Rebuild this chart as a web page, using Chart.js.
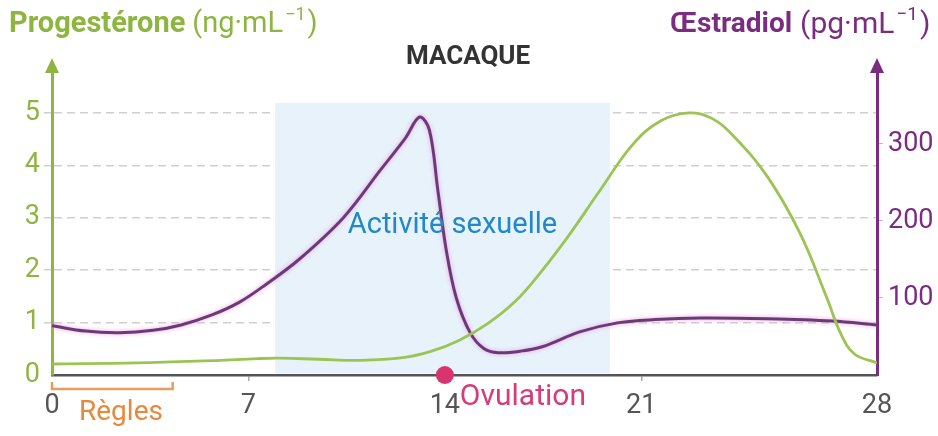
<!DOCTYPE html>
<html lang="fr">
<head>
<meta charset="utf-8">
<title>Macaque</title>
<script src="https://cdn.jsdelivr.net/npm/chart.js@4.4.1/dist/chart.umd.min.js"></script>
<style>
  html, body { margin: 0; padding: 0; background: #fff; }
  canvas { display: block; }
</style>
</head>
<body>
<canvas id="cycleChart" width="938" height="436"></canvas>
<script>
// ========================================
// DATA
// ========================================

// progesterone (ng/mL), by day of the cycle
const progDays = [0, 3, 6, 8, 9.5, 11, 12.5, 13.5, 14.5, 15.5, 16.5, 17.4, 18.4, 19.5, 20.7, 21.7, 22.7, 23.5, 24.3, 25.5, 26.65, 27.6, 28.1, 28.6, 29.4];
const progValues = [0.21, 0.23, 0.28, 0.32, 0.3, 0.28, 0.33, 0.45, 0.66, 0.97, 1.4, 1.95, 2.65, 3.5, 4.4, 4.85, 5.0, 4.9, 4.55, 3.78, 2.71, 1.49, 0.8, 0.4, 0.23];

// oestradiol (pg/mL), by day of the cycle
const estrDays = [0, 1.2, 2.4, 3.6, 4.6, 5.7, 6.7, 7.6, 8.8, 10.4, 11.7, 12.6, 13.1, 13.45, 13.75, 14.05, 14.4, 14.9, 15.4, 15.9, 16.7, 17.5, 18.8, 20.2, 21.5, 23.1, 25.5, 27.8, 29.4];
const estrValues = [64, 57, 55, 58, 65, 78, 95, 117, 150, 205, 266, 308, 335, 318, 240, 162, 101, 55, 34, 29, 31, 37, 56, 68, 72, 74, 73, 70, 65];

// axis ticks
const dayTickPos = [0, 7, 14, 21, 29.4];
const dayTickLabels = ["0", "7", "14", "21", "28"];
const progTicks = [0, 1, 2, 3, 4, 5];
const estrTicks = [100, 200, 300];

// events on the cycle
const ovulationDay = 14;
const activityStart = 7.95;
const activityEnd = 19.88;
const activityTop = 5.19;
const reglesEnd = 4.3;

// ========================================
// COLORS
// ========================================

const green = "#8db53f";
const greenLine = "#9cc454";
const purple = "#7c2c80";
const purpleLine = "#6c3b76";
const gray = "#555555";
const FONT = "Roboto, 'Open Sans', sans-serif";

Chart.defaults.font.family = FONT;

// ========================================
// PLUGINS
// ========================================

// light blue band for "Activité sexuelle", under the curves
const activityBand = {
  id: "activityBand",
  beforeDatasetsDraw(chart) {
    const { ctx, scales } = chart;
    const x1 = scales.x.getPixelForValue(activityStart);
    const x2 = scales.x.getPixelForValue(activityEnd);
    const top = scales.yP.getPixelForValue(activityTop);
    const bottom = scales.yP.getPixelForValue(0) - 1.5;
    ctx.save();
    ctx.fillStyle = "#e8f2fb";
    ctx.fillRect(x1, top, x2 - x1, bottom - top);
    ctx.restore();
  },
};

// pink halo around the oestradiol curve
const halo = {
  id: "halo",
  beforeDatasetDraw(chart, args) {
    if (args.meta.label !== "estr") return;
    chart.ctx.save();
    chart.ctx.shadowColor = "rgba(235, 150, 225, 0.9)";
    chart.ctx.shadowBlur = 4;
  },
  afterDatasetDraw(chart, args) {
    if (args.meta.label !== "estr") return;
    chart.ctx.restore();
  },
};

function arrowUp(ctx, x, y, color) {
  ctx.fillStyle = color;
  ctx.beginPath();
  ctx.moveTo(x, y - 12);
  ctx.lineTo(x - 7, y + 3);
  ctx.lineTo(x + 7, y + 3);
  ctx.closePath();
  ctx.fill();
}

// text with a "−1" exponent before the closing parenthesis
function unitText(ctx, x, y, before, color, size) {
  ctx.fillStyle = color;
  ctx.font = `${size}px ${FONT}`;
  ctx.fillText(before, x, y);
  x += ctx.measureText(before).width + 2;
  ctx.font = `${Math.round(size * 0.62)}px ${FONT}`;
  ctx.fillText("\u22121", x, y - size * 0.32);
  x += ctx.measureText("\u22121").width + 2;
  ctx.font = `${size}px ${FONT}`;
  ctx.fillText(")", x, y);
}

const annotations = {
  id: "annotations",
  afterDraw(chart) {
    const { ctx, chartArea, scales } = chart;
    ctx.save();

    // axis arrows
    arrowUp(ctx, chartArea.left, chartArea.top - 2, green);
    arrowUp(ctx, chartArea.right, chartArea.top - 2, purple);

    ctx.textBaseline = "middle";
    ctx.textAlign = "left";

    // axis titles
    ctx.fillStyle = green;
    ctx.font = `bold 29px ${FONT}`;
    ctx.fillText("Progestérone", 9, 25);
    let w = ctx.measureText("Progestérone").width;
    unitText(ctx, 9 + w + 7, 25, "(ng·mL", green, 29);

    ctx.fillStyle = purple;
    ctx.font = `bold 28px ${FONT}`;
    ctx.fillText("Œstradiol", 670, 25);
    w = ctx.measureText("Œstradiol").width;
    unitText(ctx, 670 + w + 8, 25, "(pg·mL", purple, 30);

    // chart title
    ctx.textAlign = "center";
    ctx.fillStyle = "#333";
    ctx.font = `bold 26px ${FONT}`;
    ctx.fillText("MACAQUE", 468, 57);

    // band label
    const bandMid = (scales.x.getPixelForValue(activityStart) + scales.x.getPixelForValue(activityEnd)) / 2;
    ctx.fillStyle = "#2089c6";
    ctx.font = `29px ${FONT}`;
    ctx.fillText("Activité sexuelle", bandMid + 10, scales.yP.getPixelForValue(2.85));

    // ovulation label
    const ox = scales.x.getPixelForValue(ovulationDay);
    const base = scales.yP.getPixelForValue(0);
    ctx.textAlign = "left";
    ctx.fillStyle = "#d83a7a";
    ctx.font = `30px ${FONT}`;
    ctx.fillText("Ovulation", ox + 15, base + 22);

    // menstruation bracket
    const r0 = scales.x.getPixelForValue(0);
    const r1 = scales.x.getPixelForValue(reglesEnd);
    ctx.strokeStyle = "#e99b60";
    ctx.lineWidth = 2.5;
    ctx.beginPath();
    ctx.moveTo(r0, base + 7);
    ctx.lineTo(r0, base + 14);
    ctx.lineTo(r1, base + 14);
    ctx.lineTo(r1, base + 7);
    ctx.stroke();
    ctx.fillStyle = "#e8883c";
    ctx.font = `28px ${FONT}`;
    ctx.fillText("Règles", r0 + 27, base + 38);

    ctx.restore();
  },
};

// ========================================
// CHART
// ========================================

const toPoints = (xs, ys) => xs.map((x, i) => ({ x: x, y: ys[i] }));

new Chart(document.getElementById("cycleChart"), {
  type: "line",
  data: {
    datasets: [
      {
        label: "ovulation",
        type: "scatter",
        data: [{ x: ovulationDay, y: 0 }],
        yAxisID: "yP",
        pointRadius: 9,
        pointBackgroundColor: "#d9346f",
        pointBorderWidth: 0,
        clip: false,
        order: 0,
      },
      {
        label: "prog",
        data: toPoints(progDays, progValues),
        yAxisID: "yP",
        borderColor: greenLine,
        borderWidth: 2.8,
        pointRadius: 0,
        tension: 0.4,
        order: 1,
      },
      {
        label: "estr",
        data: toPoints(estrDays, estrValues),
        yAxisID: "yE",
        borderColor: purpleLine,
        borderWidth: 3,
        pointRadius: 0,
        tension: 0.35,
        order: 2,
      },
    ],
  },
  options: {
    responsive: false,
    animation: false,
    layout: { padding: { top: 72, left: 0, right: 0, bottom: 0 } },
    plugins: {
      legend: { display: false },
      tooltip: { enabled: false },
    },
    scales: {
      x: {
        type: "linear",
        min: 0,
        max: 29.4,
        afterBuildTicks: (s) => {
          s.ticks = dayTickPos.map((v) => ({ value: v }));
        },
        afterFit: (s) => {
          s.height = 61;
        },
        ticks: {
          callback: (v, i) => dayTickLabels[i],
          color: gray,
          font: { size: 27 },
          padding: 9,
          maxRotation: 0,
          autoSkip: false,
        },
        grid: {
          drawOnChartArea: false,
          tickLength: 6,
          lineWidth: 1.5,
          color: (c) => (c.index === 0 || c.index === dayTickPos.length - 1 ? "transparent" : "#aaa"),
        },
        border: { color: gray, width: 2.5 },
      },
      yP: {
        type: "linear",
        position: "left",
        min: 0,
        max: 5.78,
        afterBuildTicks: (s) => {
          s.ticks = progTicks.map((v) => ({ value: v }));
        },
        afterFit: (s) => {
          s.width = 52;
        },
        ticks: {
          color: green,
          font: { size: 27 },
          padding: 4,
        },
        grid: {
          tickLength: 8,
          lineWidth: 1.5,
          color: (c) => (c.tick && c.tick.value === 0 ? "transparent" : "#cfcfcf"),
        },
        border: { color: green, width: 3, dash: [8, 5] },
      },
      yE: {
        type: "linear",
        position: "right",
        min: 0,
        max: 393.5,
        afterBuildTicks: (s) => {
          s.ticks = estrTicks.map((v) => ({ value: v }));
        },
        afterFit: (s) => {
          s.width = 61;
        },
        ticks: {
          color: purple,
          font: { size: 27 },
          padding: 5,
        },
        grid: {
          drawOnChartArea: false,
          tickLength: 6,
          color: "#cdb0d0",
        },
        border: { color: purple, width: 3 },
      },
    },
  },
  plugins: [activityBand, halo, annotations],
});
</script>
</body>
</html>
